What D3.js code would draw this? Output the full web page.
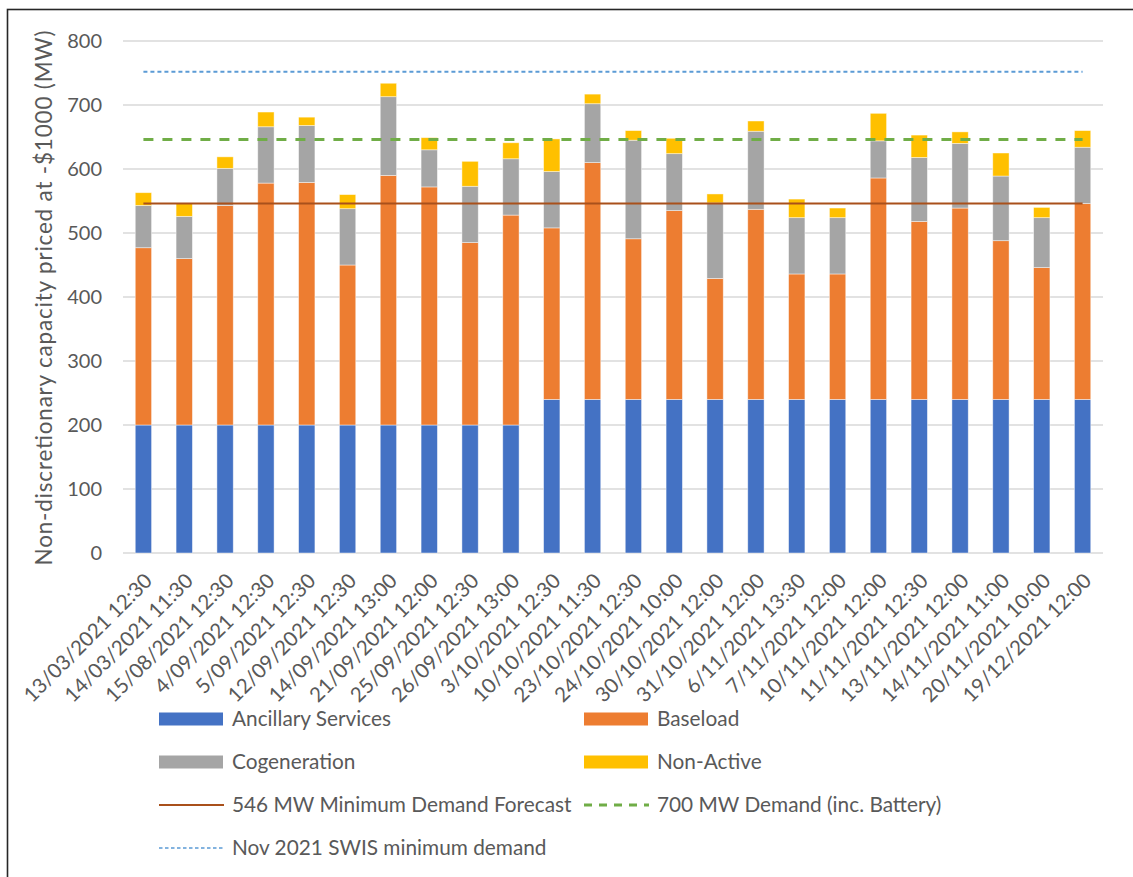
<!DOCTYPE html>
<html>
<head>
<meta charset="utf-8">
<script src="https://cdn.jsdelivr.net/npm/d3@7"></script>
<style>
  html, body { margin: 0; padding: 0; background: #fff; }
  svg { display: block; }
  text { font-family: Lato, "Open Sans", sans-serif; fill: #595959; }
</style>
</head>
<body>
<svg id="chart" width="1133" height="877"></svg>
<script>
// Dispatch snapshots (trading intervals)
const categories = [
  "13/03/2021 12:30", "14/03/2021 11:30", "15/08/2021 12:30", "4/09/2021 12:30",
  "5/09/2021 12:30", "12/09/2021 12:30", "14/09/2021 13:00", "21/09/2021 12:00",
  "25/09/2021 12:30", "26/09/2021 13:00", "3/10/2021 12:30", "10/10/2021 11:30",
  "23/10/2021 12:30", "24/10/2021 10:00", "30/10/2021 12:00", "31/10/2021 12:00",
  "6/11/2021 13:30", "7/11/2021 12:00", "10/11/2021 12:00", "11/11/2021 12:30",
  "13/11/2021 12:00", "14/11/2021 11:00", "20/11/2021 10:00", "19/12/2021 12:00"
];

// Stacked components (MW)
const ancillary    = [200,200,200,200,200,200,200,200,200,200,240,240,240,240,240,240,240,240,240,240,240,240,240,240];
const baseload     = [277,260,343,378,379,250,390,372,285,328,268,370,251,295,189,297,196,196,346,278,299,248,206,306];
const cogeneration = [66,66,58,88,89,88,123,58,88,88,88,92,154,89,118,122,88,88,58,100,101,101,78,88];
const nonActive    = [20,20,18,23,13,22,21,19,39,25,51,15,15,24,14,16,29,15,43,35,18,36,16,26];

// Reference levels (MW)
const minDemandForecast = 546;
const demand700 = 646;
const swisMinDemand = 752;

const yTicks = [0, 100, 200, 300, 400, 500, 600, 700, 800];

const seriesNames = ["Ancillary Services", "Baseload", "Cogeneration", "Non-Active"];
const seriesColors = ["#4472C4", "#ED7D31", "#A5A5A5", "#FFC000"];

const svg = d3.select("#chart");

// Outer frame
svg.append("rect")
  .attr("x", 7.5).attr("y", 9.5)
  .attr("width", 1140).attr("height", 880)
  .attr("fill", "none").attr("stroke", "#262626").attr("stroke-width", 1.6);

const plot = { left: 123, right: 1103, top: 41, bottom: 553 };

const x = d3.scaleBand()
  .domain(categories)
  .range([plot.left, plot.right])
  .paddingInner(0.6)
  .paddingOuter(0.3);

const y = d3.scaleLinear()
  .domain([0, 800])
  .range([plot.bottom, plot.top]);

// Gridlines
svg.append("g")
  .selectAll("line")
  .data(yTicks)
  .join("line")
  .attr("x1", plot.left).attr("x2", plot.right)
  .attr("y1", d => y(d)).attr("y2", d => y(d))
  .attr("stroke", "#D9D9D9").attr("stroke-width", 1.3);

// Y axis tick labels
const yAxis = d3.axisLeft(y).tickValues(yTicks).tickSize(0).tickPadding(0);
const yg = svg.append("g")
  .attr("transform", `translate(${plot.left - 21},0)`)
  .call(yAxis);
yg.select(".domain").remove();
yg.selectAll("text")
  .attr("font-size", 20)
  .attr("font-family", "Lato, sans-serif")
  .attr("fill", "#595959");

// Y axis title
svg.append("text")
  .attr("transform", `translate(52,${(plot.top + plot.bottom) / 2 + 1}) rotate(-90)`)
  .attr("text-anchor", "middle")
  .attr("font-size", 22.5)
  .attr("textLength", 535)
  .attr("lengthAdjust", "spacing")
  .text("Non-discretionary capacity priced at -$1000 (MW)");

// Stacked bars
const rows = categories.map((c, i) => ({
  cat: c,
  "Ancillary Services": ancillary[i],
  "Baseload": baseload[i],
  "Cogeneration": cogeneration[i],
  "Non-Active": nonActive[i]
}));
const stacked = d3.stack().keys(seriesNames)(rows);

svg.append("g")
  .selectAll("g")
  .data(stacked)
  .join("g")
  .attr("fill", (d, i) => seriesColors[i])
  .selectAll("rect")
  .data(d => d)
  .join("rect")
  .attr("x", d => x(d.data.cat))
  .attr("width", x.bandwidth())
  .attr("y", d => y(d[1]))
  .attr("height", d => y(d[0]) - y(d[1]))
  .attr("stroke", "#ffffff")
  .attr("stroke-opacity", 0.55)
  .attr("stroke-width", 0.8);

// Horizontal reference lines across category centres
const xStart = x(categories[0]) + x.bandwidth() / 2;
const xEnd = x(categories[categories.length - 1]) + x.bandwidth() / 2;
const refLines = [
  { value: swisMinDemand, color: "#5B9BD5", width: 2, dash: "4,3" },
  { value: demand700, color: "#70AD47", width: 3, dash: "10,9" },
  { value: minDemandForecast, color: "#A9501B", width: 2, dash: null }
];
svg.append("g")
  .selectAll("line")
  .data(refLines)
  .join("line")
  .attr("x1", xStart).attr("x2", xEnd)
  .attr("y1", d => y(d.value)).attr("y2", d => y(d.value))
  .attr("stroke", d => d.color)
  .attr("stroke-width", d => d.width)
  .attr("stroke-dasharray", d => d.dash);

// X axis category labels, rotated
svg.append("g")
  .selectAll("text")
  .data(categories)
  .join("text")
  .attr("transform", d => `translate(${x(d) + x.bandwidth() / 2 + 5},${plot.bottom + 24}) rotate(-45)`)
  .attr("text-anchor", "end")
  .attr("dy", "0.35em")
  .attr("font-size", 20.5)
  .text(d => d);

// Legend
const legendItems = [
  { label: "Ancillary Services", type: "rect", color: seriesColors[0], col: 0, row: 0 },
  { label: "Baseload", type: "rect", color: seriesColors[1], col: 1, row: 0 },
  { label: "Cogeneration", type: "rect", color: seriesColors[2], col: 0, row: 1 },
  { label: "Non-Active", type: "rect", color: seriesColors[3], col: 1, row: 1 },
  { label: "546 MW Minimum Demand Forecast", type: "line", color: "#A9501B", width: 2, dash: null, col: 0, row: 2 },
  { label: "700 MW Demand (inc. Battery)", type: "line", color: "#70AD47", width: 3, dash: "8,7", col: 1, row: 2 },
  { label: "Nov 2021 SWIS minimum demand", type: "line", color: "#5B9BD5", width: 1.5, dash: "3.5,2.5", col: 0, row: 3 }
];
const colX = [159, 584];
const rowY = [719, 762, 805, 848];

const lg = svg.append("g")
  .selectAll("g")
  .data(legendItems)
  .join("g")
  .attr("transform", d => `translate(${colX[d.col]},${rowY[d.row]})`);

lg.filter(d => d.type === "rect")
  .append("rect")
  .attr("x", 0).attr("y", -6.5)
  .attr("width", 64).attr("height", 13)
  .attr("fill", d => d.color);

lg.filter(d => d.type === "line")
  .append("line")
  .attr("x1", 0).attr("x2", 65)
  .attr("y1", 0).attr("y2", 0)
  .attr("stroke", d => d.color)
  .attr("stroke-width", d => d.width)
  .attr("stroke-dasharray", d => d.dash);

lg.append("text")
  .attr("x", 73)
  .attr("dy", "0.35em")
  .attr("font-size", 20.8)
  .text(d => d.label);
</script>
</body>
</html>
